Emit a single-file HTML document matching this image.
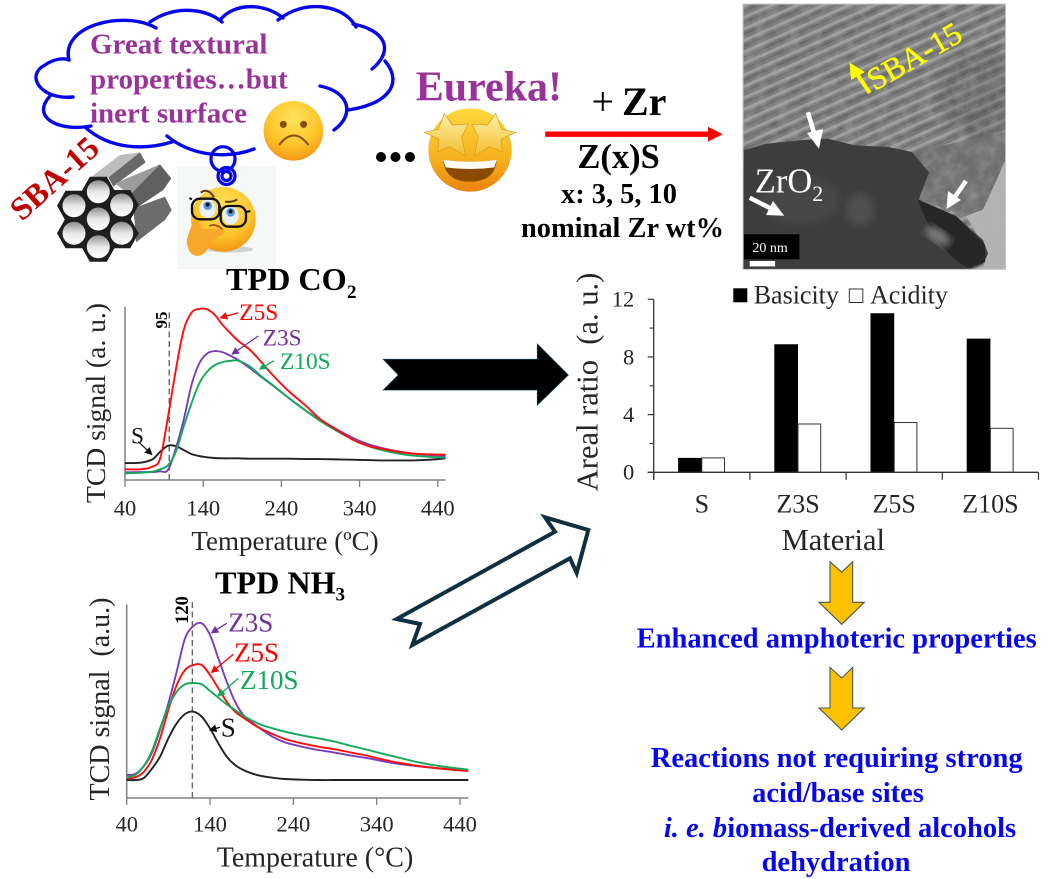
<!DOCTYPE html>
<html lang="en">
<head>
<meta charset="utf-8">
<title>SBA-15 zirconia graphical abstract</title>
<style>
html,body{margin:0;padding:0;background:#fff;}
body{width:1060px;height:879px;overflow:hidden;}
svg{display:block;filter:blur(.35px);}
text{font-family:"Liberation Serif",serif;white-space:pre;}
.b{font-weight:bold;}
.blue{fill:#0606f5;font-weight:bold;font-size:28.5px;text-anchor:middle;}
.purple{fill:#993399;font-weight:bold;font-size:29px;}
</style>
</head>
<body>
<svg id="scene" xmlns="http://www.w3.org/2000/svg" width="1060" height="879" viewBox="0 0 1060 879">
<defs>
  <radialGradient id="faceGrad" cx="50%" cy="30%" r="75%"><stop offset="0" stop-color="#ffe45c"/><stop offset=".6" stop-color="#fdc42a"/><stop offset="1" stop-color="#f18f10"/></radialGradient>
  <linearGradient id="starFace" x1="0" y1="0" x2="0" y2="1"><stop offset="0" stop-color="#fcd93d"/><stop offset=".6" stop-color="#f6b21e"/><stop offset="1" stop-color="#e9820d"/></linearGradient>
  <linearGradient id="starFill" x1="0" y1="0" x2="0" y2="1"><stop offset="0" stop-color="#fff0a8"/><stop offset="1" stop-color="#f2bd2e"/></linearGradient>
  <linearGradient id="hole" x1="0" y1="0" x2="0" y2="1"><stop offset="0" stop-color="#8d8d8d"/><stop offset=".5" stop-color="#e8e8e8"/><stop offset="1" stop-color="#ffffff"/></linearGradient>
  <pattern id="stripes" width="14" height="10.5" patternUnits="userSpaceOnUse" patternTransform="rotate(-24)">
    <rect width="14" height="10.5" fill="#777777"/><rect y="2" width="14" height="3.2" fill="#9a9a9a"/><rect y="7.4" width="14" height="2" fill="#676767"/>
  </pattern>
  <filter id="noise" x="0" y="0" width="100%" height="100%"><feTurbulence type="fractalNoise" baseFrequency=".09" numOctaves="3" seed="4"/><feColorMatrix values="0 0 0 0 .45  0 0 0 0 .45  0 0 0 0 .45  1.6 0 0 0 -.5"/></filter>
  <filter id="soft"><feGaussianBlur stdDeviation="4"/></filter>
  <clipPath id="temClip"><rect x="743" y="4" width="262.6" height="265.4"/></clipPath>
  <marker id="mRed" markerWidth="6" markerHeight="6" refX="5" refY="3" orient="auto"><path d="M0 0L6 3L0 6Z" fill="#ff0000"/></marker>
  <marker id="mPur" markerWidth="6" markerHeight="6" refX="5" refY="3" orient="auto"><path d="M0 0L6 3L0 6Z" fill="#7030a0"/></marker>
  <marker id="mGrn" markerWidth="6" markerHeight="6" refX="5" refY="3" orient="auto"><path d="M0 0L6 3L0 6Z" fill="#12a85a"/></marker>
  <marker id="mBlk" markerWidth="6" markerHeight="6" refX="5" refY="3" orient="auto"><path d="M0 0L6 3L0 6Z" fill="#111"/></marker>
</defs>
<rect width="1060" height="879" fill="#fff"/>

<!-- thought cloud -->
<g fill="none" stroke="#0505ee" stroke-width="3.4" stroke-linecap="round">
  <path d="M69 60C60 25 125 10 156 28"/>
  <path d="M150 22C175 5 205 8 222 22"/>
  <path d="M220 20C235 2 265 3 283 18"/>
  <path d="M278 20C305 -2 345 5 356 27"/>
  <path d="M353 24C385 30 395 50 372 69"/>
  <path d="M385 61C405 85 385 105 348 110"/>
  <path d="M320 86C350 92 355 115 334 130"/>
  <path d="M254 149C225 160 190 155 167 136"/>
  <path d="M172 142C145 150 110 150 85 127"/>
  <path d="M91 126C60 132 30 118 50 96"/>
  <path d="M73 97C40 100 25 75 45 65C55 58 65 58 69 60"/>
</g>
<text class="purple" x="90" y="53.4">Great textural</text>
<text class="purple" x="90" y="88.6">properties…but</text>
<text class="purple" x="90" y="122.4">inert surface</text>

<!-- sad emoji -->
<g>
  <circle cx="293.4" cy="130.8" r="29.8" fill="url(#faceGrad)"/>
  <circle cx="283.3" cy="124.4" r="3.5" fill="#8a4b08"/>
  <circle cx="303.6" cy="124.4" r="3.5" fill="#8a4b08"/>
  <path d="M279 145Q294 126 308.500 145" fill="none" stroke="#8a4b08" stroke-width="2"/>
</g>

<!-- thinking emoji -->
<rect x="177" y="166" width="99" height="103" fill="#f5f8f7"/>
<g transform="translate(170 160) scale(.3333)">
  <ellipse cx="178" cy="268" rx="72" ry="10" fill="#999" opacity=".4"/>
  <circle cx="160" cy="178" r="97" fill="url(#faceGrad)"/>
  <path d="M92 98Q115 82 132 112" fill="none" stroke="#5a3a12" stroke-width="6"/>
  <path d="M165 125Q185 128 202 118" fill="none" stroke="#5a3a12" stroke-width="6"/>
  <ellipse cx="112" cy="146" rx="24" ry="28" fill="#e8f1fb"/><circle cx="113" cy="137" r="13" fill="#5b9ad8"/><circle cx="113" cy="134" r="6" fill="#111"/>
  <ellipse cx="182" cy="166" rx="24" ry="28" fill="#e8f1fb"/><circle cx="182" cy="157" r="13" fill="#5b9ad8"/><circle cx="182" cy="154" r="6" fill="#111"/>
  <rect x="66" y="116" width="82" height="62" rx="24" fill="none" stroke="#111" stroke-width="7"/>
  <rect x="152" y="138" width="76" height="62" rx="24" fill="none" stroke="#111" stroke-width="7"/>
  <path d="M148 135L152 145M66 118L58 114M228 156L241 153" stroke="#111" stroke-width="6"/>
  <path d="M118 198Q140 188 160 212" fill="none" stroke="#a3470f" stroke-width="5"/>
  <path d="M50 240Q62 200 72 182Q88 176 94 206L160 208Q170 222 150 226L118 248Q112 285 82 288Q52 285 50 240Z" fill="#f9a72b"/>
</g>
<g fill="none" stroke="#0505ee" stroke-width="3.2">
  <ellipse cx="223" cy="159" rx="12" ry="12.300"/>
  <circle cx="226.500" cy="176" r="8.500"/>
  <circle cx="226.500" cy="176" r="4.500"/>
</g>

<!-- SBA-15 bundle -->
<text class="b" x="22" y="222" transform="rotate(-42 22 222)" font-size="32.500" fill="#c00000">SBA-15</text>
<g>
  <g transform="translate(50 145) scale(.3333)">
    <polygon points="125,95 210,30 270,22 220,70 175,98" fill="#bdbdbd"/>
    <polygon points="175,98 270,22 287,52 215,105 190,125" fill="#696969"/>
    <polygon points="195,115 330,58 290,100 240,150" fill="#9c9c9c"/>
    <polygon points="240,150 330,58 364,100 340,135 250,195" fill="#606060"/>
    <polygon points="250,190 345,155 365,195 345,225 258,292 255,240" fill="#6c6c6c"/>
  </g>
  <g fill="#1e1e1e">
    <polygon transform="translate(98.300 191.700)" points="17,0 8.500,15 -8.500,15 -17,0 -8.500,-15 8.500,-15"/>
    <polygon transform="translate(121.700 205)" points="17,0 8.500,15 -8.500,15 -17,0 -8.500,-15 8.500,-15"/>
    <polygon transform="translate(121.700 233.300)" points="17,0 8.500,15 -8.500,15 -17,0 -8.500,-15 8.500,-15"/>
    <polygon transform="translate(98.300 246.700)" points="17,0 8.500,15 -8.500,15 -17,0 -8.500,-15 8.500,-15"/>
    <polygon transform="translate(74 233.300)" points="17,0 8.500,15 -8.500,15 -17,0 -8.500,-15 8.500,-15"/>
    <polygon transform="translate(74 205.700)" points="17,0 8.500,15 -8.500,15 -17,0 -8.500,-15 8.500,-15"/>
    <polygon transform="translate(98.300 219)" points="17,0 8.500,15 -8.500,15 -17,0 -8.500,-15 8.500,-15"/>
  </g>
  <circle cx="98.300" cy="191.700" r="11.500" fill="url(#hole)"/>
  <circle cx="121.700" cy="205" r="11.500" fill="url(#hole)"/>
  <circle cx="121.700" cy="233.300" r="11.500" fill="url(#hole)"/>
  <circle cx="98.300" cy="246.700" r="11.500" fill="url(#hole)"/>
  <circle cx="74" cy="233.300" r="11.500" fill="url(#hole)"/>
  <circle cx="74" cy="205.700" r="11.500" fill="url(#hole)"/>
  <circle cx="98.300" cy="219" r="11.500" fill="url(#hole)"/>
</g>

<!-- ellipsis and star emoji -->
<g fill="#000">
  <circle cx="381" cy="157" r="5"/><circle cx="395.500" cy="157" r="5"/><circle cx="410" cy="157" r="5"/>
</g>
<g transform="translate(415 100) scale(.3333)">
  <circle cx="165" cy="150" r="125" fill="url(#starFace)"/>
  <path d="M85 180Q165 190 245 180Q240 245 165 245Q90 245 85 180Z" fill="#8a4a00"/>
  <path d="M85 180Q165 190 245 180L238 202Q165 212 92 202Z" fill="#fff"/>
  <polygon points="88,40 112,75 160,72 140,110 152,168 105,140 68,156 72,118 28,97 70,88" fill="url(#starFill)" stroke="#d99a1c" stroke-width="2"/>
  <polygon points="242,40 218,75 170,72 190,110 178,168 225,140 262,156 258,118 302,97 260,88" fill="url(#starFill)" stroke="#d99a1c" stroke-width="2"/>
</g>
<text class="b" x="415.800" y="100.700" font-size="42" fill="#993399">Eureka!</text>

<!-- reaction -->
<text class="b" x="591.500" y="115" font-size="40"><tspan font-weight="normal">+</tspan><tspan x="622">Zr</tspan></text>
<polygon points="545.200,131.500 708,131.500 708,126.800 722.700,134.200 708,141.600 708,136.900 545.200,136.900" fill="#ff0000"/>
<text class="b" x="618.600" y="168" font-size="34.500" text-anchor="middle">Z(x)S</text>
<text class="b" x="619" y="202.800" font-size="28.400" text-anchor="middle">x: 3, 5, 10</text>
<text class="b" x="622.500" y="236.800" font-size="28.400" text-anchor="middle">nominal Zr wt%</text>

<!-- TEM micrograph -->
<g clip-path="url(#temClip)">
  <rect x="743" y="4" width="262.600" height="265.400" fill="url(#stripes)"/>
  <ellipse cx="985" cy="95" rx="45" ry="45" fill="#555" opacity=".4" filter="url(#soft)"/>
  <polygon points="912,152 1006,132 1006,160 983,209.600 966,216 918.800,199.500 929,172.400" fill="#6e6e6e"/>
  <polygon points="1006,159 983,209.600 966,216 988,253.500 983,267 970,270 1006,270" fill="#b3b3b3"/>
  <rect x="743" y="4" width="262.600" height="265.400" filter="url(#noise)" opacity=".45"/>
  <polygon points="743.700,150.400 766.600,143.700 800.400,140.300 827.500,138.600 854.500,145.400 888.400,147 912,152 929,172.400 918.800,199.500 956,216.400 983,240 988,253.500 983,263.700 969.500,269.400 743,269.400" fill="#3d3d3d"/>
  <ellipse cx="800" cy="200" rx="40" ry="24" fill="#474747" filter="url(#soft)"/>
  <ellipse cx="860" cy="210" rx="14" ry="16" fill="#505050" filter="url(#soft)"/>
  <path d="M918 200L956 216L985 245L985 262L968 268Q935 250 918 200Z" fill="#262626"/>
  <ellipse cx="938" cy="236" rx="14" ry="7" transform="rotate(35 938 236)" fill="#7c7c7c" filter="url(#soft)"/>
</g>
<rect x="743" y="4" width="262.600" height="265.400" fill="none" stroke="#c8c8c8" stroke-width="1"/>
<text x="874.800" y="91.300" transform="rotate(-30 874.800 91.300)" font-size="31.500" fill="#ffff00" stroke="#ffff00" stroke-width=".5">SBA-15</text>
<g fill="#ffff00">
  <line x1="869.800" y1="93" x2="853" y2="68" stroke="#ffff00" stroke-width="4"/>
  <polygon points="849.500,62.500 865,72 851,80"/>
</g>
<g fill="#fff" stroke="none">
  <line x1="807.900" y1="112.200" x2="815.500" y2="138" stroke="#fff" stroke-width="4.500"/>
  <polygon points="819,148.700 807,133 823,129"/>
  <line x1="966" y1="181" x2="952" y2="201" stroke="#fff" stroke-width="4.500"/>
  <polygon points="946.500,209 948,191 961,200"/>
  <line x1="749.700" y1="197.800" x2="774" y2="210" stroke="#fff" stroke-width="4.500"/>
  <polygon points="784.200,215.700 766,215 773,201"/>
</g>
<text x="754.800" y="192.700" font-size="34.500" fill="#fff">ZrO</text>
<text x="812.300" y="201" font-size="22" fill="#fff">2</text>
<rect x="744" y="234.300" width="55.400" height="25" fill="#000"/>
<text x="752.400" y="251.900" font-size="14" fill="#fff">20 nm</text>
<rect x="749.700" y="261" width="25.400" height="5.400" fill="#fff"/>

<!-- TPD CO2 chart static text -->
<text class="b" x="226" y="290" font-size="32.200">TPD CO</text>
<text class="b" x="347" y="298" font-size="19">2</text>
<text x="105" y="403" transform="rotate(-90 105 403)" font-size="27.600" text-anchor="middle" fill="#262626">TCD signal (a. u.)</text>
<text x="285" y="550" font-size="27" text-anchor="middle" fill="#262626">Temperature (ºC)</text>
<g id="co2Chart"></g>
<text class="b" x="167" y="320" transform="rotate(-90 167 320)" font-size="17" text-anchor="middle">95</text>
<text x="239.300" y="320" font-size="23.400" fill="#ff0000">Z5S</text>
<text x="262.700" y="345.700" font-size="23.400" fill="#7030a0">Z3S</text>
<text x="280" y="369" font-size="23.400" fill="#12a85a">Z10S</text>
<text x="131" y="443.300" font-size="23.400" fill="#111">S</text>
<g fill="none" stroke-width="1.300">
  <line x1="238.300" y1="312.700" x2="220.700" y2="317.700" stroke="#ff0000" marker-end="url(#mRed)"/>
  <line x1="258.300" y1="336" x2="232.300" y2="354" stroke="#7030a0" marker-end="url(#mPur)"/>
  <line x1="274" y1="360.700" x2="260" y2="369" stroke="#12a85a" marker-end="url(#mGrn)"/>
  <line x1="138.300" y1="441.700" x2="151.700" y2="454.300" stroke="#111" marker-end="url(#mBlk)"/>
</g>

<!-- TPD NH3 chart static text -->
<text class="b" x="215" y="593.300" font-size="32.200">TPD NH</text>
<text class="b" x="335.500" y="600.500" font-size="19">3</text>
<text x="109" y="699" transform="rotate(-90 109 699)" font-size="28" text-anchor="middle" fill="#262626">TCD signal  (a.u.)</text>
<text x="315" y="866.700" font-size="28" text-anchor="middle" fill="#262626">Temperature (°C)</text>
<g id="nh3Chart"></g>
<text class="b" x="188" y="610" transform="rotate(-90 188 610)" font-size="18.500" text-anchor="middle">120</text>
<text x="228.300" y="631.700" font-size="27" fill="#7030a0">Z3S</text>
<text x="234" y="661.700" font-size="27" fill="#ff0000">Z5S</text>
<text x="240" y="689" font-size="27" fill="#12a85a">Z10S</text>
<text x="220.700" y="736.700" font-size="27" fill="#111">S</text>
<g fill="none" stroke-width="1.300">
  <line x1="226.700" y1="623.300" x2="211.700" y2="632.700" stroke="#7030a0" marker-end="url(#mPur)"/>
  <line x1="233.300" y1="654.300" x2="211.700" y2="672.300" stroke="#ff0000" marker-end="url(#mRed)"/>
  <line x1="238.300" y1="678.300" x2="218.300" y2="695.700" stroke="#12a85a" marker-end="url(#mGrn)"/>
  <line x1="220" y1="727.300" x2="210" y2="730" stroke="#111" marker-end="url(#mBlk)"/>
</g>

<!-- flow arrows -->
<polygon points="383.300,359.300 537.300,359.300 537.300,344 568.300,375 537.300,405 537.300,390 383.300,390 398.300,375" fill="#000" stroke="#1b3a4b" stroke-width=".8"/>
<polygon points="396.700,619 420,624 412.300,645 570,558.300 576.700,573 588.300,530 545,517.300 555,531.700" fill="#fff" stroke="#10303f" stroke-width="4" stroke-linejoin="miter"/>

<!-- bar chart -->
<text x="597.500" y="382" transform="rotate(-90 597.500 382)" font-size="30.500" text-anchor="middle" fill="#262626">Areal ratio  (a. u.)</text>
<text x="833.300" y="550" font-size="30.500" text-anchor="middle" fill="#262626">Material</text>
<g id="barChart"></g>
<g>
  <rect x="733.300" y="288.300" width="14" height="14" fill="#000"/>
  <text x="753.700" y="303.300" font-size="26" fill="#262626">Basicity</text>
  <rect x="849.300" y="289" width="13.500" height="13.500" fill="#fff" stroke="#333" stroke-width="1"/>
  <text x="870" y="303.300" font-size="26" fill="#262626">Acidity</text>
</g>

<!-- conclusions -->
<polygon points="830,561.700 841.700,572.300 852.700,561.700 852.700,602.300 864.300,602.300 841.700,624.300 819,602.300 830,602.300" fill="#ffc000" stroke="#3f5a50" stroke-width="1.100"/>
<text class="blue" x="836.700" y="647.700">Enhanced amphoteric properties</text>
<polygon points="830,667.400 841.700,678 852.700,667.400 852.700,708 864.300,708 841.700,730 819,708 830,708" fill="#ffc000" stroke="#3f5a50" stroke-width="1.100"/>
<text class="blue" x="836.700" y="766.900">Reactions not requiring strong</text>
<text class="blue" x="838" y="802.200">acid/base sites</text>
<text class="blue" x="840" y="836.800"><tspan font-style="italic">i. e. b</tspan>iomass-derived alcohols</text>
<text class="blue" x="836" y="871">dehydration</text>
</svg>

<script>
// TPD CO2 data (signal in a.u., 0-100 scale)
const co2Temps = [40,60,75,85,95,105,115,125,135,145,155,165,175,185,200,215,230,250,270,290,310,330,350,370,390,410,430,450];
const co2Z5S = [6.2,6.2,7.7,12.5,36.5,63.5,86.5,96.5,98.8,98.5,95.2,89.4,84.6,80.2,75,67.7,60,51,43.3,35,29.2,23.5,19.8,17.9,16.2,15.2,14.8,14.6];
const co2Z3S = [4.4,4.6,4.6,5,5.8,18.3,34.6,54.8,67.3,73,74.4,73.7,71.6,69.2,64.4,59.2,54.2,47.1,40.4,34.6,29.4,24.6,20.8,18.3,16.5,15.2,14.4,13.8];
const co2Z10S = [3.8,4.2,4.8,6.2,8.5,16.3,30.8,44.2,55.8,62.5,66.3,68.1,68.8,68.8,65.4,59.6,54.4,47.1,40.4,34,28.5,23.7,19.8,17.1,15.2,14,13.3,12.9];
const co2S = [9.8,10,11.9,16.3,19.8,19.6,17.3,15,13.8,13.1,12.7,12.5,12.5,12.5,12.3,12.3,12.3,12.3,12.1,12.1,11.9,11.7,11.5,11.3,11.3,11.3,11.7,12.5];
const co2Ticks = [40,140,240,340,440];
const co2PeakTemp = 96.6;

// TPD NH3 data (signal in a.u., 0-581 scale)
const nh3Temps = [40,50,60,70,80,90,100,110,120,130,140,150,160,170,180,190,200,215,230,250,270,290,310,330,350,370,390,410,430,450];
const nh3Z3S = [69,72,94,134,204,284,379,479,516,524,489,419,349,289,249,227,209,184,167,154,144,136,127,119,109,101,95,90,86,83];
const nh3Z5S = [59,62,77,114,179,264,339,384,399,399,369,329,289,259,241,224,209,192,177,164,154,146,136,126,114,104,96,90,85,81];
const nh3Z10S = [62,69,94,139,209,274,319,341,345,341,321,301,281,264,247,233,221,209,199,188,179,169,156,144,131,119,107,98,91,85];
const nh3S = [54,54,59,87,124,179,224,252,259,244,209,164,124,99,84,74,67,61,57,55,54,54,54,54,54,54,54,54,54,54];
const nh3Ticks = [40,140,240,340,440];
const nh3PeakTemp = 118.8;

// Areal ratio data
const barCategories = ['S','Z3S','Z5S','Z10S'];
const basicity = [1,8.88,11.03,9.27];
const acidity = [1,3.35,3.45,3.05];
const barMajorTicks = [0,4,8,12];
const barMinorTicks = [2,6,10];

const NS = 'http://www.w3.org/2000/svg';
function mk(tag, attrs, parent, txt){
  const el = document.createElementNS(NS, tag);
  for (const k in attrs) el.setAttribute(k, attrs[k]);
  if (txt !== undefined) el.textContent = txt;
  parent.appendChild(el);
  return el;
}
function smooth(pts){
  let d = 'M' + pts[0][0].toFixed(2) + ' ' + pts[0][1].toFixed(2);
  for (let i = 0; i < pts.length - 1; i++){
    const p0 = pts[Math.max(0,i-1)], p1 = pts[i], p2 = pts[i+1], p3 = pts[Math.min(pts.length-1,i+2)];
    const c1x = p1[0] + (p2[0]-p0[0])/6, c1y = p1[1] + (p2[1]-p0[1])/6;
    const c2x = p2[0] - (p3[0]-p1[0])/6, c2y = p2[1] - (p3[1]-p1[1])/6;
    d += 'C' + c1x.toFixed(2) + ' ' + c1y.toFixed(2) + ' ' + c2x.toFixed(2) + ' ' + c2y.toFixed(2) + ' ' + p2[0].toFixed(2) + ' ' + p2[1].toFixed(2);
  }
  return d;
}
function drawLineChart(root, prefix, cfg){
  const xAxis = mk('line', {x1:cfg.x(40), x2:cfg.x(450), y1:cfg.y(0), y2:cfg.y(0), stroke:'#808080','stroke-width':1.5}, root);
  
  
  const yAxis = mk('line', {x1:cfg.x(40), x2:cfg.x(40), y1:cfg.y(0), y2:cfg.y(cfg.top), stroke:'#808080','stroke-width':1.5}, root);
  
  
  cfg.ticks.forEach(function(t){
    const tick = mk('line', {x1:cfg.x(t), x2:cfg.x(t), y1:cfg.y(0), y2:cfg.y(0)+7, stroke:'#808080','stroke-width':1.3}, root);
    
    
    const label = mk('text', {x:cfg.x(t), y:cfg.tickY, 'font-size':22.5, 'text-anchor':'middle', fill:'#262626'}, root, String(t));
    
    
  });
  const dash = mk('line', {x1:cfg.x(cfg.peak), x2:cfg.x(cfg.peak), y1:cfg.y(0), y2:cfg.y(cfg.dashTop), stroke:'#666','stroke-width':1.4,'stroke-dasharray':'6 3.5'}, root);
  
  
  cfg.series.forEach(function(s){
    const pts = cfg.temps.map(function(t,i){ return [cfg.x(t), cfg.y(s.values[i])]; });
    const path = mk('path', {d:smooth(pts), fill:'none', stroke:s.color, 'stroke-width':1.9, 'stroke-linejoin':'round'}, root);
    
    
  });
}
drawLineChart(document.getElementById('co2Chart'), 'co2', {
  x: function(t){ return 125 + (t-40)*0.782; },
  y: function(v){ return 480 - v*1.733; },
  top: 100, dashTop: 98, tickY: 515.7, ticks: co2Ticks, peak: co2PeakTemp, temps: co2Temps,
  series: [
    {name:'s', color:'#222222', values:co2S},
    {name:'z3s', color:'#7a3db8', values:co2Z3S},
    {name:'z10s', color:'#12a85a', values:co2Z10S},
    {name:'z5s', color:'#ff0d0d', values:co2Z5S}
  ]
});
drawLineChart(document.getElementById('nh3Chart'), 'nh3', {
  x: function(t){ return 126.7 + (t-40)*0.8333; },
  y: function(v){ return 798 - v/3; },
  top: 581, dashTop: 591, tickY: 831.7, ticks: nh3Ticks, peak: nh3PeakTemp, temps: nh3Temps,
  series: [
    {name:'s', color:'#222222', values:nh3S},
    {name:'z3s', color:'#7a3db8', values:nh3Z3S},
    {name:'z5s', color:'#ff0d0d', values:nh3Z5S},
    {name:'z10s', color:'#12a85a', values:nh3Z10S}
  ]
});

(function(){
  const root = document.getElementById('barChart');
  const x0 = 653.7, catW = 96.2, barW = 23.7;
  const yBar = function(v){ return 472.3 - v*14.42; };
  const catX = function(i){ return x0 + i*catW; };
  barCategories.forEach(function(c,i){
    const cx = catX(i) + catW/2;
    const b = mk('rect', {x:cx-barW, y:yBar(basicity[i]), width:barW, height:yBar(0)-yBar(basicity[i]), fill:'#000'}, root);
    
    
    const a = mk('rect', {x:cx, y:yBar(acidity[i]), width:barW-1, height:yBar(0)-yBar(acidity[i]), fill:'#fff', stroke:'#333', 'stroke-width':1}, root);
    
    
    const lab = mk('text', {x:cx, y:512.3, 'font-size':26, 'text-anchor':'middle', fill:'#262626'}, root, c);
    
    
  });
  for (let i = 0; i <= barCategories.length; i++){
    const t = mk('line', {x1:catX(i), x2:catX(i), y1:yBar(0), y2:yBar(0)+7.5, stroke:'#333','stroke-width':1.2}, root);
    
    
  }
  const ax = mk('line', {x1:x0-6, x2:catX(barCategories.length), y1:yBar(0), y2:yBar(0), stroke:'#333','stroke-width':1.3}, root);
  
  
  const ay = mk('line', {x1:x0, x2:x0, y1:yBar(0)+7.5, y2:yBar(12), stroke:'#333','stroke-width':1.3}, root);
  
  
  barMajorTicks.forEach(function(v){
    const t = mk('line', {x1:x0-6, x2:x0, y1:yBar(v), y2:yBar(v), stroke:'#333','stroke-width':1.2}, root);
    
    
    const l = mk('text', {x:x0-19.5, y:yBar(v)+7.4, 'font-size':22.5, 'text-anchor':'end', fill:'#262626'}, root, String(v));
    
    
  });
  barMinorTicks.forEach(function(v){
    const t = mk('line', {x1:x0-4, x2:x0, y1:yBar(v), y2:yBar(v), stroke:'#333','stroke-width':1.1}, root);
    
    
  });
})();
</script>
</body>
</html>
